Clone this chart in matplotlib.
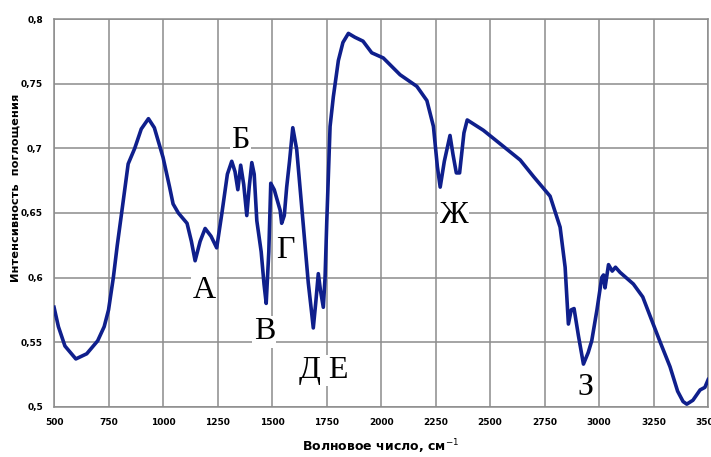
import numpy as np
import matplotlib
matplotlib.use('Agg')
import matplotlib.pyplot as plt

# спектр поглощения, значения
wavenumber = [500, 520, 550, 600, 650, 700, 730, 750, 772, 790, 810, 840, 870, 900,
              933, 960, 1000, 1030, 1046, 1070, 1110, 1130, 1147, 1170, 1193, 1220,
              1246, 1270, 1295, 1315, 1330, 1343, 1356, 1370, 1384, 1395, 1407, 1418,
              1430, 1450, 1463, 1473, 1485, 1494, 1510, 1537, 1544, 1556, 1567, 1580,
              1595, 1613, 1628, 1644, 1666, 1680, 1689, 1700, 1712, 1722, 1735, 1743,
              1751, 1766, 1781, 1804, 1825, 1850, 1880, 1917, 1957, 2010, 2087, 2164,
              2210, 2240, 2258, 2271, 2290, 2316, 2330, 2345, 2360, 2380, 2395, 2469,
              2550, 2638, 2700, 2775, 2821, 2844, 2859, 2872, 2885, 2905, 2928, 2950,
              2966, 2990, 3012, 3020, 3027, 3043, 3060, 3075, 3096, 3157, 3200, 3241,
              3280, 3325, 3360, 3385, 3402, 3430, 3463, 3485, 3500]
absorbance = [0.577, 0.562, 0.547, 0.537, 0.541, 0.551, 0.562, 0.575, 0.600, 0.625,
              0.650, 0.688, 0.700, 0.715, 0.723, 0.716, 0.693, 0.670, 0.657, 0.650,
              0.642, 0.628, 0.613, 0.628, 0.638, 0.632, 0.623, 0.650, 0.680, 0.690,
              0.682, 0.668, 0.687, 0.672, 0.648, 0.670, 0.689, 0.680, 0.644, 0.620,
              0.595, 0.580, 0.620, 0.673, 0.668, 0.652, 0.642, 0.648, 0.670, 0.690,
              0.716, 0.699, 0.670, 0.639, 0.596, 0.575, 0.561, 0.580, 0.603, 0.590,
              0.577, 0.600, 0.644, 0.717, 0.740, 0.768, 0.782, 0.789, 0.786, 0.783,
              0.774, 0.770, 0.757, 0.748, 0.737, 0.717, 0.686, 0.670, 0.690, 0.710,
              0.695, 0.681, 0.681, 0.712, 0.722, 0.714, 0.703, 0.691, 0.678, 0.663,
              0.639, 0.608, 0.564, 0.575, 0.576, 0.555, 0.533, 0.542, 0.551, 0.575,
              0.600, 0.602, 0.592, 0.610, 0.605, 0.608, 0.604, 0.595, 0.585, 0.567,
              0.550, 0.531, 0.512, 0.504, 0.502, 0.505, 0.513, 0.515, 0.521]

# подписи полос
band_names = ['А', 'Б', 'В', 'Г', 'Д Е', 'Ж', 'З']
band_x = [1188, 1356, 1465, 1560, 1735, 2332, 2936]
band_y = [0.590, 0.706, 0.558, 0.621, 0.528, 0.648, 0.515]

x_ticks = [500, 750, 1000, 1250, 1500, 1750, 2000, 2250, 2500, 2750, 3000, 3250, 3500]
y_ticks = [0.5, 0.55, 0.6, 0.65, 0.7, 0.75, 0.8]
y_tick_labels = ['0,5', '0,55', '0,6', '0,65', '0,7', '0,75', '0,8']

fig = plt.figure(figsize=(7.11, 4.57), dpi=100)
ax = fig.add_axes([0.076, 0.110, 0.920, 0.848])

ax.plot(wavenumber, absorbance, color='#0f1f8c', lw=2.6, zorder=3)

ax.set_xlim(500, 3500)
ax.set_ylim(0.5, 0.8)
ax.set_xticks(x_ticks)
ax.set_yticks(y_ticks)
ax.set_yticklabels(y_tick_labels)
ax.tick_params(length=0, labelsize=6.5, pad=8)
for lab in ax.get_xticklabels() + ax.get_yticklabels():
    lab.set_fontweight('bold')
ax.grid(True, color='#8c8c8c', lw=1.1, zorder=1)
for sp in ax.spines.values():
    sp.set_color('#8c8c8c')
    sp.set_linewidth(1.1)

for name, bx, by in zip(band_names, band_x, band_y):
    ax.text(bx, by, name, fontsize=23, family='Liberation Serif', ha='center',
            va='center', zorder=4,
            bbox=dict(facecolor='white', edgecolor='none', pad=1))

ax.set_xlabel('Волновое число, см$^{-1}$', fontsize=9, fontweight='bold')
ax.xaxis.set_label_coords(0.5, -0.078)
ax.set_ylabel('Интенсивность  поглощения', fontsize=8.2, fontweight='bold')
ax.yaxis.set_label_coords(-0.051, 0.565)

fig.savefig('out.png', dpi=100)
